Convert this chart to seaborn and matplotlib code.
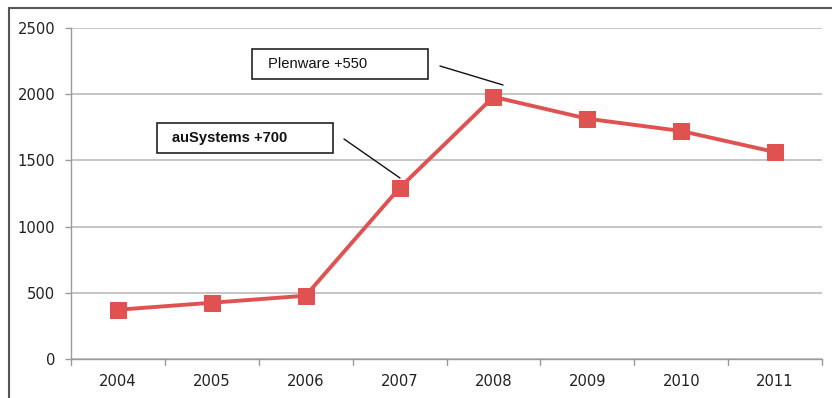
import matplotlib
matplotlib.use("Agg")
import matplotlib.pyplot as plt
import seaborn as sns
import pandas as pd
from matplotlib.patches import Rectangle

years = ["2004", "2005", "2006", "2007", "2008", "2009", "2010", "2011"]
values = [372, 425, 478, 1292, 1980, 1815, 1722, 1563]
yticks = [0, 500, 1000, 1500, 2000, 2500]
notes = ["Plenware +550", "auSystems +700"]

sns.set_theme(style="white")
plt.rcParams['font.family'] = ['DejaVu Sans']
plt.rcParams['font.stretch'] = 'condensed'

df = pd.DataFrame({"year": years, "value": values})

fig = plt.figure(figsize=(8.32, 3.98), dpi=100)
W, H = 832, 398
ax = fig.add_axes([71 / W, 1 - 359 / H, (822 - 71) / W, (359 - 28) / H])

color = "#E05252"
sns.lineplot(data=df, x="year", y="value", ax=ax, color=color, lw=2.8,
             marker="s", markersize=11.5, markeredgecolor=color, sort=False)

ax.set_xlim(-0.5, len(years) - 0.5)
ax.set_ylim(0, 2500)
ax.set_yticks(yticks)
ax.set_yticklabels([str(v) for v in yticks], fontsize=11.8, color="#222222", fontstretch="condensed")
ax.set_xticks(range(len(years)))
ax.set_xticklabels(years, fontsize=11.8, color="#222222", fontstretch="condensed")
ax.set_xlabel("")
ax.set_ylabel("")
ax.yaxis.grid(True, color="#BBBBBB", lw=1.2)
ax.set_axisbelow(True)
for s in ["top", "right"]:
    ax.spines[s].set_visible(False)
for s in ["left", "bottom"]:
    ax.spines[s].set_color("#9A9A9A")
    ax.spines[s].set_linewidth(1.0)
ax.tick_params(axis="y", length=4.5, color="#9A9A9A", direction="out", width=1, pad=7, left=True)
ax.tick_params(axis="x", length=0, pad=11)
for b in range(len(years) + 1):
    xb = b - 0.5
    ax.plot([xb, xb], [0, -45], color="#9A9A9A", lw=1, clip_on=False)

def fx(px):
    return px / W

def fy(py):
    return 1 - py / H

fig.add_artist(Rectangle((fx(252), fy(79)), (428 - 252) / W, 30 / H, transform=fig.transFigure,
                         fill=True, facecolor="white", edgecolor="#222222", lw=1.2))
fig.text(fx(268), fy(64), notes[0], fontsize=10.6, family="Liberation Sans", fontstretch="normal",
         va="center", ha="left", color="#111111")
fig.add_artist(plt.Line2D([fx(440), fx(503)], [fy(66), fy(85)], transform=fig.transFigure, color="#111111", lw=1))

fig.add_artist(Rectangle((fx(157), fy(153)), (333 - 157) / W, 30 / H, transform=fig.transFigure,
                         fill=True, facecolor="white", edgecolor="#222222", lw=1.2))
fig.text(fx(172), fy(138), notes[1], fontsize=10.6, family="Liberation Sans", fontstretch="normal",
         weight="bold", va="center", ha="left", color="#111111")
fig.add_artist(plt.Line2D([fx(344), fx(400)], [fy(139), fy(178)], transform=fig.transFigure, color="#111111", lw=1))

fig.add_artist(Rectangle((fx(8.5), fy(420)), (W + 20) / W, (420 - 8.5) / H, transform=fig.transFigure,
                         fill=False, edgecolor="#555555", lw=1.5))

fig.savefig("out.png", dpi=100)
